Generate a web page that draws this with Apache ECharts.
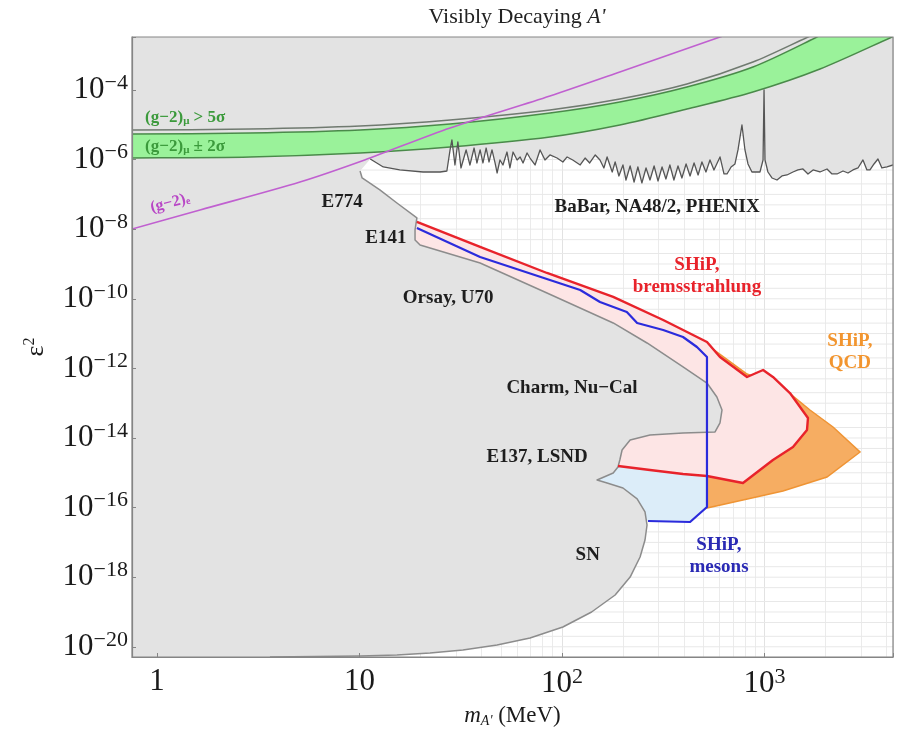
<!DOCTYPE html>
<html><head><meta charset="utf-8">
<script src="https://cdn.jsdelivr.net/npm/echarts@6/dist/echarts.min.js"></script>
<style>html,body{margin:0;padding:0;background:#fff}#c{width:902px;height:743px}</style>
</head><body><div id="c"></div>
<script>
// ---------- axis ranges & ticks ----------
const X_MIN = 0.752, X_MAX = 4313;      // MeV
const Y_MIN = 5.09e-21, Y_MAX = 3.33e-3; // epsilon^2
const xTicks = [1, 10, 100, 1000];
const yTicks = [1e-20, 1e-18, 1e-16, 1e-14, 1e-12, 1e-10, 1e-8, 1e-6, 1e-4];
const yGridMantissas = [1, 2, 5];

// ---------- (g-2) curves [mass MeV, eps^2] ----------
const gm2Mu5Sigma = [[0.5,7.1e-6],[0.752,7.09e-6],[2.88,7.57e-6],[10.06,9.24e-6],[28,1.37e-5],[87.2,2.66e-5],[193,5.51e-5],[414,1.49e-4],[877,6.38e-4],[1640,3.33e-3],[2643,1.17e-2]];
const gm2MuBandTop = [[0.5,5.44e-6],[0.752,5.44e-6],[2.88,5.81e-6],[10.06,7.09e-6],[28,1.05e-5],[87.2,2.18e-5],[193,4.52e-5],[414,1.22e-4],[877,4.58e-4],[1817,3.33e-3],[2643,1.03e-2]];
const gm2MuBandBottom = [[0.5,1.11e-6],[0.752,1.11e-6],[2.88,1.19e-6],[10.06,1.55e-6],[28,2.30e-6],[87.2,4.46e-6],[193,9.87e-6],[414,2.84e-5],[877,8.77e-5],[1880,4.01e-4],[4265,3.33e-3],[6561,1.03e-2]];
const gm2E = [[0.5,5.2e-9],[0.752,1.01e-8],[1.63,3.56e-8],[5.08,2.27e-7],[10.6,9.75e-7],[28,8.09e-6],[87.2,6.73e-5],[193,3.29e-4],[603,3.33e-3],[950,8.4e-3]];

// ---------- BaBar / NA48/2 / PHENIX upper bound ----------
const babar = [[11.3,1.04e-6],[13.1,6.13e-7],[15.8,5.03e-7],[20.6,4.40e-7],[25.0,4.40e-7],[27.0,4.70e-7],[28.0,1.89e-6],[28.6,3.66e-6],[29.6,7.00e-7],[30.6,3.21e-6],[31.7,5.74e-7],[33.6,1.89e-6],[35.1,7.00e-7],[36.8,2.15e-6],[38.0,7.99e-7],[39.4,1.89e-6],[40.7,7.99e-7],[42.2,2.15e-6],[43.6,8.54e-7],[45.1,1.89e-6],[46.7,7.99e-7],[47.8,4.12e-7],[49.4,9.75e-7],[51.1,7.00e-7],[53.5,1.65e-6],[55.3,5.74e-7],[57.3,1.65e-6],[60.0,9.75e-7],[62.1,1.19e-6],[64.2,7.99e-7],[67.2,1.55e-6],[69.5,1.11e-6],[73.6,7.00e-7],[77.9,1.89e-6],[82.4,9.75e-7],[87.2,1.36e-6],[94.5,1.11e-6],[101,8.54e-7],[106,1.19e-6],[113,9.75e-7],[123,7.00e-7],[130,1.11e-6],[137,7.99e-7],[146,1.36e-6],[154,9.75e-7],[161,5.74e-7],[167,1.19e-6],[177,4.40e-7],[183,8.54e-7],[191,3.38e-7],[200,7.00e-7],[207,2.59e-7],[217,6.55e-7],[227,2.27e-7],[237,6.13e-7],[248,2.13e-7],[260,5.74e-7],[272,2.59e-7],[285,6.55e-7],[298,2.43e-7],[312,6.13e-7],[326,2.77e-7],[341,7.00e-7],[357,2.59e-7],[374,6.55e-7],[391,2.96e-7],[410,7.48e-7],[429,3.38e-7],[449,7.99e-7],[470,3.61e-7],[491,8.54e-7],[514,4.40e-7],[538,9.75e-7],[563,5.03e-7],[603,1.19e-6],[631,3.86e-7],[653,3.86e-7],[684,6.13e-7],[715,7.48e-7],[740,1.89e-6],[774,9.87e-6],[801,1.89e-6],[829,7.48e-7],[867,4.40e-7],[898,4.40e-7],[950,4.40e-7],[984,9.75e-7],[995,1.0e-4],[1006,9.75e-7],[1040,4.40e-7],[1089,2.96e-7],[1153,2.59e-7],[1220,3.38e-7],[1291,3.61e-7],[1383,4.40e-7],[1463,5.03e-7],[1549,5.37e-7],[1640,3.86e-7],[1738,5.03e-7],[1880,4.40e-7],[2036,5.37e-7],[2155,3.86e-7],[2282,3.86e-7],[2443,4.70e-7],[2585,4.12e-7],[2735,5.03e-7],[2897,5.74e-7],[3065,9.75e-7],[3207,5.03e-7],[3319,5.03e-7],[3475,7.48e-7],[3635,1.04e-6],[3802,5.74e-7],[4027,6.13e-7],[4313,7.00e-7],[4700,7.00e-7]];

// ---------- beam-dump / SN lower-left excluded boundary ----------
const beamDump = [[10.06,4.70e-7],[10.3,2.96e-7],[12.6,1.34e-7],[15.3,5.66e-8],[19.2,2.10e-8],[18.8,9.49e-9],[18.8,4.90e-9],[19.9,3.52e-9],[39.4,1.07e-9],[84.3,1.47e-10],[179,2.02e-11],[263,5.37e-12],[396,1.10e-12],[520,3.80e-13],[582,1.51e-13],[617,6.38e-14],[603,2.70e-14],[570,1.49e-14],[396,1.39e-14],[272,1.22e-14],[217,8.76e-15],[198,4.52e-15],[193,2.33e-15],[189,1.47e-15],[179,9.87e-16],[149,6.21e-16],[167,5.09e-16],[200,3.66e-16],[235,1.77e-16],[257,7.48e-17],[263,3.16e-17],[257,1.17e-17],[243,3.80e-18],[217,1.01e-18],[183,3.08e-19],[140,1.00e-19],[101,3.70e-20],[69.5,1.79e-20],[47.8,1.13e-20],[32.4,8.09e-21],[22.3,6.64e-21],[15.3,5.81e-21],[10.06,5.44e-21],[3.61,5.09e-21]];

// ---------- SHiP sensitivities ----------
const shipBrems = [[19.2,1.61e-8],[39.4,3.08e-9],[84.3,5.51e-10],[179,1.13e-10],[316,2.46e-11],[520,5.74e-12],[603,2.13e-12],[820,5.66e-13],[984,8.99e-13],[1101,5.66e-13],[1336,1.96e-13],[1640,3.76e-14],[1622,1.70e-14],[1383,5.51e-15],[1101,2.33e-15],[783,5.09e-16],[520,8.09e-16],[396,9.24e-16],[272,1.20e-15],[189,1.57e-15]];
const shipBremsHidden = [[154,4.52e-15],[154,1.24e-13],[49.4,9.25e-11],[17.8,3.52e-9]];
const shipMesons = [[19.2,1.08e-8],[39.4,1.59e-9],[123,1.79e-10],[154,8.09e-11],[209,4.18e-11],[235,2.02e-11],[316,1.27e-11],[396,7.98e-12],[464,4.12e-12],[520,2.13e-12],[520,1.04e-16],[429,3.86e-17],[266,4.12e-17]];
const shipMesonsHidden = [[154,1.65e-16],[49.4,9.25e-11],[17.8,3.52e-9]];
const shipQCD = [[520,9.75e-17],[520,2.13e-12],[538,4.12e-12],[820,6.90e-13],[1234,2.74e-13],[1678,6.38e-14],[2180,2.07e-14],[2964,3.96e-15],[2036,7.57e-16],[1234,3.00e-16],[783,1.65e-16]];

// ---------- annotations ----------
const annotations = [
  {text:'E774', at:[8.20,6.05e-8], kind:'black'},
  {text:'E141', at:[13.5,5.58e-9], kind:'black'},
  {text:'Orsay, U70', at:[27.4,1.05e-10], kind:'black'},
  {text:'Charm, Nu\u2212Cal', at:[112,2.73e-13], kind:'black'},
  {text:'E137, LSND', at:[75.3,2.84e-15], kind:'black'},
  {text:'SN', at:[134,4.35e-18], kind:'black'},
  {text:'BaBar, NA48/2, PHENIX', at:[295,4.35e-8], kind:'black'},
  {text:'SHiP,\nbremsstrahlung', at:[464,4.52e-10], kind:'red'},
  {text:'SHiP,\nQCD', at:[2643,2.87e-12], kind:'orange'},
  {text:'SHiP,\nmesons', at:[596,4.0e-18], kind:'blue'},
  {text:'(g\u22122){sub|\u03bc} > 5\u03c3', at:[0.873,1.57e-5], kind:'green'},
  {text:'(g\u22122){sub|\u03bc} \u00b1 2\u03c3', at:[0.873,2.30e-6], kind:'green'},
  {text:'(g\u22122){sub|e}', at:[1.16,5.66e-8], kind:'magenta'}
];

const SERIF = '"Liberation Serif", "DejaVu Serif", serif';
const annStyle = {
  black:  {fill:'#1e1e1e', size:19, align:'center'},
  red:    {fill:'#e8232b', size:19, align:'center'},
  orange: {fill:'#f2952f', size:19, align:'center'},
  blue:   {fill:'#2a2ab4', size:19, align:'center'},
  green:  {fill:'#3b9a3b', size:17, align:'left'},
  magenta:{fill:'#b846c6', size:16, align:'center', rot:0.25}
};

function isTick(v, ticks){ return ticks.some(t => Math.abs(Math.log10(v/t)) < 0.02); }
function powLabel(v){
  const e = Math.round(Math.log10(v));
  if (e === 0) return '1';
  if (e === 1) return '10';
  return '10{sup|' + (e < 0 ? '\u2212' : '') + Math.abs(e) + '}';
}
const labelRich = {sup:{fontSize:22, fontFamily:SERIF, color:'#1a1a1a', padding:[0,0,14,0]}};

function polySeries(pts, style, z, smooth){
  return {type:'custom', coordinateSystem:'cartesian2d', z:z, silent:true, clip:true,
    data:[pts[0]], encode:{x:0, y:1},
    renderItem:(params, api) => ({type:'polygon', shape:{points: pts.map(p => api.coord(p)), smooth: smooth || 0}, style: Object.assign({}, style)})};
}
function lineSeries(pts, color, width, z, smooth){
  return {type:'custom', coordinateSystem:'cartesian2d', z:z, silent:true, clip:true,
    data:[pts[0]], encode:{x:0, y:1},
    renderItem:(params, api) => ({type:'polyline', shape:{points: pts.map(p => api.coord(p)), smooth: smooth || 0}, style:{stroke:color, lineWidth:width, fill:null, lineJoin:'round'}})};
}

// horizontal light grid lines (1, 2, 5 per decade) drawn through the y scale
const yGridValues = [];
for (let e = -21; e <= -3; e++) yGridMantissas.forEach(k => yGridValues.push(k * Math.pow(10, e)));

const grayPoly = [[X_MIN/2, Y_MAX*10], [X_MAX*2, Y_MAX*10], [X_MAX*2, babar[babar.length-1][1]]]
  .concat(babar.slice().reverse(), beamDump, [[beamDump[beamDump.length-1][0], Y_MIN/10], [X_MIN/2, Y_MIN/10]]);
const bandPoly = gm2MuBandTop.concat(gm2MuBandBottom.slice().reverse());

const chart = echarts.init(document.getElementById('c'), null, {renderer:'canvas'});
const axisBase = {type:'log', min:X_MIN, max:X_MAX, logBase:10};
const yBase = {type:'log', min:Y_MIN, max:Y_MAX, logBase:100};

chart.setOption({
  animation:false,
  backgroundColor:'#ffffff',
  title:{text:"Visibly Decaying {i|A'}", left:512, top:1, textAlign:'center',
    textStyle:{fontFamily:SERIF, fontSize:22, fontWeight:'normal', color:'#222',
      rich:{i:{fontFamily:SERIF, fontSize:22, fontStyle:'italic', color:'#222'}}}},
  grid:{left:132, right:9, top:37, bottom:86, show:true, z:30, backgroundColor:'transparent', borderColor:'#858585', borderWidth:1.2},
  xAxis:[
    Object.assign({}, axisBase, {position:'bottom', z:25,
      axisLine:{show:true, lineStyle:{color:'#858585', width:1.2}},
      axisTick:{show:true, inside:true, length:4, lineStyle:{color:'#858585'}},
      axisLabel:{margin:9, color:'#1a1a1a', fontFamily:SERIF, fontSize:31, rich:labelRich,
        formatter:v => isTick(v, xTicks) ? powLabel(v) : ''},
      splitLine:{show:false}, minorTick:{show:false}, minorSplitLine:{show:false},
      name:"{i|m}{sub|A'} (MeV)", nameLocation:'middle', nameGap:47,
      nameTextStyle:{fontFamily:SERIF, fontSize:23, color:'#1a1a1a',
        rich:{i:{fontFamily:SERIF, fontSize:23, fontStyle:'italic', color:'#1a1a1a'},
              sub:{fontFamily:SERIF, fontSize:14, fontStyle:'italic', color:'#1a1a1a', padding:[10,0,0,0]}}}}),
    Object.assign({}, axisBase, {position:'bottom', z:0,
      axisLine:{show:false}, axisTick:{show:false}, axisLabel:{show:false},
      splitLine:{show:true, lineStyle:{color:'#e2e2e2', width:1}},
      minorTick:{show:false, splitNumber:9}, minorSplitLine:{show:true, lineStyle:{color:'#ebebeb', width:1}}})
  ],
  yAxis:[
    Object.assign({}, yBase, {position:'left', z:25,
      axisLine:{show:true, lineStyle:{color:'#858585', width:1.2}},
      axisTick:{show:true, inside:true, length:4, lineStyle:{color:'#858585'}},
      axisLabel:{margin:4, color:'#1a1a1a', fontFamily:SERIF, fontSize:31, rich:labelRich,
        formatter:v => isTick(v, yTicks) ? powLabel(v) : ''},
      splitLine:{show:false}, minorTick:{show:false}, minorSplitLine:{show:false},
      name:'\u03b5{sup|2}', nameLocation:'middle', nameGap:82,
      nameTextStyle:{fontFamily:SERIF, fontSize:26, color:'#1a1a1a',
        rich:{sup:{fontFamily:SERIF, fontSize:16, color:'#1a1a1a', padding:[0,0,12,0]}}}})
  ],
  series:[
    {type:'custom', coordinateSystem:'cartesian2d', z:1, silent:true, clip:true,
      data: yGridValues.map(v => [X_MIN, v]), encode:{x:0, y:1},
      renderItem:(params, api) => {
        const v = yGridValues[params.dataIndex];
        const a = api.coord([X_MIN, v]), b = api.coord([X_MAX, v]);
        return {type:'line', shape:{x1:a[0], y1:a[1], x2:b[0], y2:b[1]}, style:{stroke:'#e8e8e8', lineWidth:1}};
      }},
    polySeries(shipQCD, {fill:'#f6ad62', stroke:'#ef9434', lineWidth:1.5}, 2),
    polySeries(shipMesons.concat(shipMesonsHidden), {fill:'#dcedf9'}, 3),
    polySeries(shipBrems.concat(shipBremsHidden), {fill:'#fde5e5'}, 4),
    polySeries(grayPoly, {fill:'#e3e3e3'}, 5),
    polySeries(bandPoly, {fill:'#9af29a'}, 6, 0.3),
    lineSeries(gm2MuBandTop, '#4a8a4a', 1.5, 7, 0.3),
    lineSeries(gm2MuBandBottom, '#4a8a4a', 1.5, 7, 0.3),
    lineSeries(gm2Mu5Sigma, '#707a70', 1.5, 7, 0.3),
    lineSeries(gm2E, '#c060d0', 1.6, 8, 0.3),
    lineSeries(beamDump, '#8c8c8c', 1.5, 8),
    lineSeries(babar, '#555555', 1.3, 8),
    lineSeries(shipBrems, '#e8232b', 2.4, 9),
    lineSeries(shipMesons, '#2b2bdc', 2.2, 10),
    {type:'custom', coordinateSystem:'cartesian2d', z:12, silent:true, clip:false,
      data: annotations.map(a => a.at), encode:{x:0, y:1},
      renderItem:(params, api) => {
        const a = annotations[params.dataIndex];
        const s = annStyle[a.kind];
        const p = api.coord(a.at);
        return {type:'text', x:p[0], y:p[1], rotation:s.rot || 0,
          style:{text:a.text, fill:s.fill, fontFamily:SERIF, fontSize:s.size, fontWeight:'bold',
            align:s.align, verticalAlign:'middle', lineHeight:s.size + 3,
            rich:{sub:{fill:s.fill, fontFamily:SERIF, fontSize:Math.round(s.size*0.65), fontWeight:'bold', padding:[6,0,0,0]}}}};
      }}
  ]
});
</script></body></html>
